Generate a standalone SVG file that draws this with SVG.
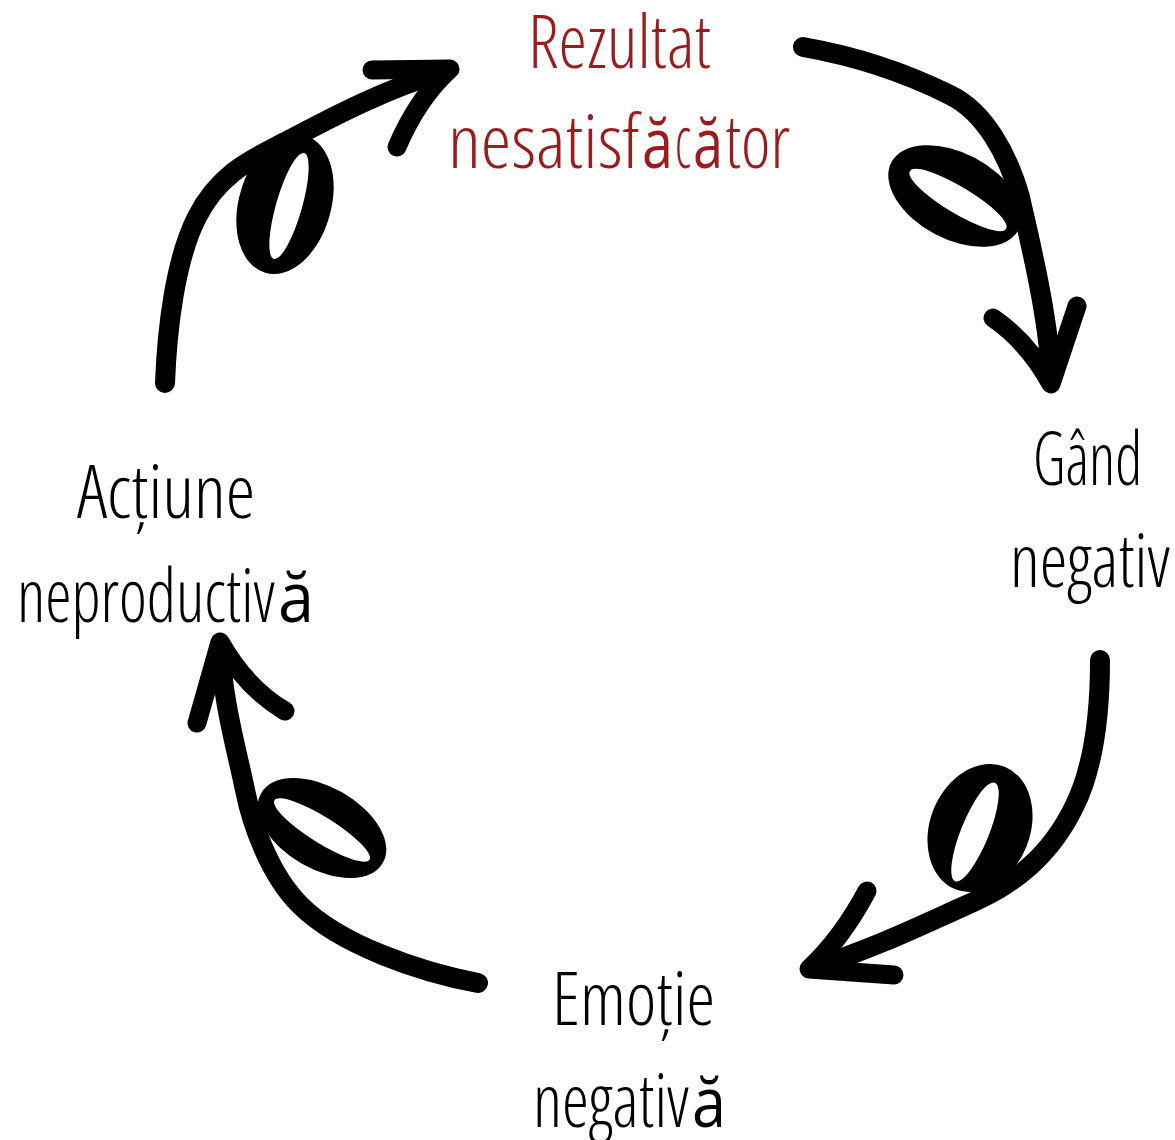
<svg xmlns="http://www.w3.org/2000/svg" width="1175" height="1140" viewBox="0 0 1175 1140">
<style>
.lbl{font-family:"Open Sans","Liberation Sans",sans-serif;font-size:74px;font-stretch:condensed;font-weight:300}
.alt{font-family:"Open Sans","Noto Sans",sans-serif;font-size:70px;font-weight:400}
.red{fill:#9b1b1e}
.blk{fill:#000}
.shaft{fill:none;stroke:#000;stroke-width:20;stroke-linecap:round;stroke-linejoin:round}
.head{fill:none;stroke:#000;stroke-width:19;stroke-linecap:round;stroke-linejoin:round}
.loop{fill:#000;fill-rule:evenodd;stroke:none}
</style>
<rect width="1175" height="1140" fill="#fff"/>
<g id="connectors">
  <g id="arrow-actiune-rezultat">
    <path class="loop" d="M329.2,216.7 A46,70,16,1,0,240.8,191.3 A46,70,16,1,0,329.2,216.7 Z M301.5,209.6 A13,55,16,1,0,276.5,202.4 A13,55,16,1,0,301.5,209.6 Z"/>
    <path class="shaft" d="M165,383 C167,330 175,260 197,217 C219,174 250,160 283,143 C316,126 380,90 446,71"/>
    <path class="head" d="M372,70 L450,69 Q418,98 397,147"/>
  </g>
  <g id="arrow-rezultat-gand">
    <path class="loop" d="M1018.6,229.8 A72,43,28,1,0,891.4,162.2 A72,43,28,1,0,1018.6,229.8 Z M1006,228.8 A56,13,31,1,0,910,171.2 A56,13,31,1,0,1006,228.8 Z"/>
    <path class="shaft" d="M803,47 C860,57 910,75 950,95 C985,112 1008,155 1020,197 C1028,234 1050,320 1051,381"/>
    <path class="head" d="M993,318 Q1028,342 1051,384 L1077,306"/>
  </g>
  <g id="arrow-gand-emotie">
    <path class="loop" d="M1026.4,846.7 A50,66,22,1,0,933.6,809.3 A50,66,22,1,0,1026.4,846.7 Z M988,837.2 A14,53,22,1,0,962,826.8 A14,53,22,1,0,988,837.2 Z"/>
    <path class="shaft" d="M1100,660 C1100,720 1092,770 1075,805 C1062,832 1048,850 1030,866 C1010,884 990,895 960,908 C920,926 870,950 812,968"/>
    <path class="head" d="M867,891 Q842,938 809,969 L894,975"/>
  </g>
  <g id="arrow-emotie-actiune">
    <path class="loop" d="M382.6,863 A70,40,30,1,0,261.4,793 A70,40,30,1,0,382.6,863 Z M369.5,859.7 A56,13,32,1,0,274.5,800.3 A56,13,32,1,0,369.5,859.7 Z"/>
    <path class="shaft" d="M478,983 C420,972 340,945 300,905 C270,875 252,825 245,790 C238,755 222,700 220,645"/>
    <path class="head" d="M197,723 L220,642 Q246,688 285,711"/>
  </g>
</g>
<g id="node-rezultat">
  <text class="lbl red" x="528" y="68" textLength="183" lengthAdjust="spacingAndGlyphs">Rezultat</text>
  <text class="lbl red" x="448" y="168" textLength="192" lengthAdjust="spacingAndGlyphs">nesatisf</text>
  <text class="alt red" x="642" y="168" textLength="31" lengthAdjust="spacingAndGlyphs">ă</text>
  <text class="lbl red" x="675" y="168" textLength="16" lengthAdjust="spacingAndGlyphs">c</text>
  <text class="alt red" x="693" y="168" textLength="30" lengthAdjust="spacingAndGlyphs">ă</text>
  <text class="lbl red" x="725" y="168" textLength="65" lengthAdjust="spacingAndGlyphs">tor</text>
</g>
<g id="node-gand">
  <text class="lbl blk" x="1033" y="485" textLength="109" lengthAdjust="spacingAndGlyphs">Gând</text>
  <text class="lbl blk" x="1010" y="587" textLength="160" lengthAdjust="spacingAndGlyphs">negativ</text>
</g>
<g id="node-emotie">
  <text class="lbl blk" x="552" y="1025" textLength="163" lengthAdjust="spacingAndGlyphs">Emoție</text>
  <text class="lbl blk" x="533" y="1127" textLength="156" lengthAdjust="spacingAndGlyphs">negativ</text>
  <text class="alt blk" x="692" y="1127" textLength="34" lengthAdjust="spacingAndGlyphs">ă</text>
</g>
<g id="node-actiune">
  <text class="lbl blk" x="77" y="518" textLength="178" lengthAdjust="spacingAndGlyphs">Acțiune</text>
  <text class="lbl blk" x="17" y="622" textLength="258" lengthAdjust="spacingAndGlyphs">neproductiv</text>
  <text class="alt blk" x="278" y="622" textLength="36" lengthAdjust="spacingAndGlyphs">ă</text>
</g>
</svg>
